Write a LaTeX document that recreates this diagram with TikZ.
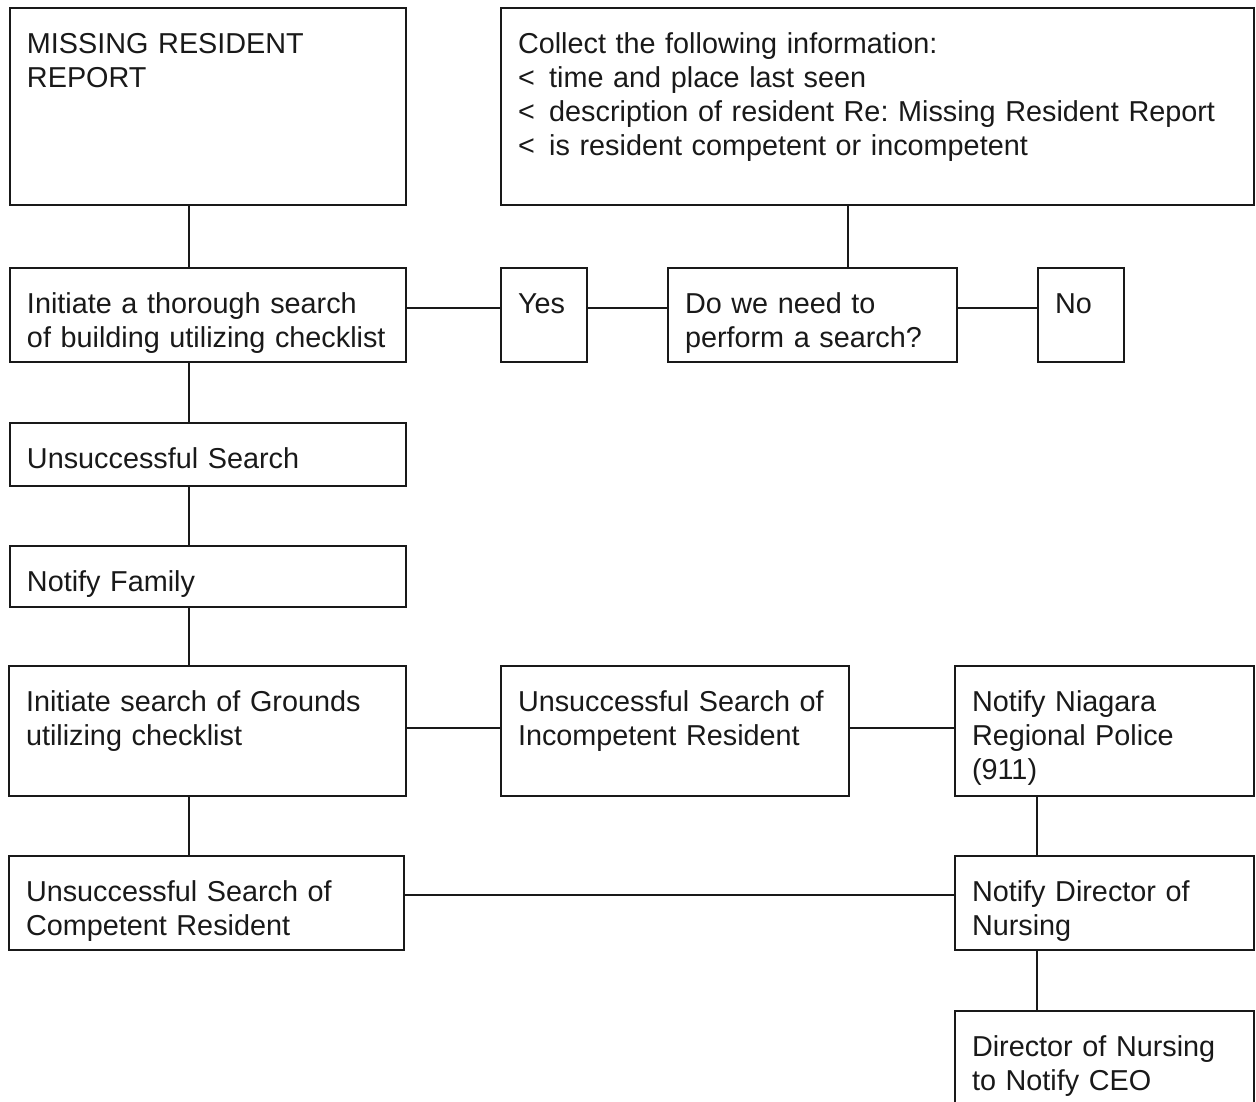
\documentclass[tikz,border=0pt]{standalone}
\usepackage{fontspec}
\setmainfont{Liberation Sans}
\usepackage{tikz}

\begin{document}
\begin{tikzpicture}[x=1pt,y=-1pt,
  box/.style={draw=black!90,line width=2pt,anchor=north west,align=left,
    inner xsep=17pt,inner ysep=0pt,text height=45pt,text=black!90,
    font=\fontsize{28.8}{34}\selectfont\frenchspacing},
  wire/.style={draw=black!90,line width=1.4pt},
  stem/.style={draw=black!90,line width=2pt}]
  \useasboundingbox (0,0) rectangle (1256,1101);
  \coordinate (trunk) at (189,0);
  \coordinate (drop) at (848,0);
  \coordinate (branch) at (1037,0);
  \coordinate (row2) at (0,308);
  \coordinate (row5) at (0,728);
  \coordinate (row6) at (0,895);

  \node[box,text width=362pt,text depth=152pt] (report) at (9,7) {MISSING RESIDENT\\REPORT};
  \node[box,text width=719pt,text depth=152pt] (collect) at (500,7)
    {Collect the following information:\\
     <\enspace time and place last seen\\
     <\enspace description of resident Re: Missing Resident Report\\
     <\enspace is resident competent or incompetent};
  \node[box,text width=362pt,text depth=49pt] (search) at (9,267) {Initiate a thorough search\\of building utilizing checklist};
  \node[box,text width=52pt,text depth=49pt] (yes) at (500,267) {Yes};
  \node[box,text width=255pt,text depth=49pt] (need) at (667,267) {Do we need to\\perform a search?};
  \node[box,text width=52pt,text depth=49pt] (no) at (1037,267) {No};
  \node[box,text width=362pt,text depth=18pt] (unsucc) at (9,422) {Unsuccessful Search};
  \node[box,text width=362pt,text depth=16pt] (family) at (9,545) {Notify Family};
  \node[box,text width=363pt,text depth=85pt] (grounds) at (8,665) {Initiate search of Grounds\\utilizing checklist};
  \node[box,text width=314pt,text depth=85pt] (incomp) at (500,665) {Unsuccessful Search of\\Incompetent Resident};
  \node[box,text width=265pt,text depth=85pt] (police) at (954,665) {Notify Niagara\\Regional Police\\(911)};
  \node[box,text width=361pt,text depth=49pt] (comp) at (8,855) {Unsuccessful Search of\\Competent Resident};
  \node[box,text width=265pt,text depth=49pt] (director) at (954,855) {Notify Director of\\Nursing};
  \node[box,text width=265pt,text depth=60pt] (ceo) at (954,1010) {Director of Nursing\\to Notify CEO};

  \draw[stem] (report.south -| trunk) -- (search.north -| trunk);
  \draw[stem] (collect.south -| drop) -- (need.north -| drop);
  \draw[wire] (search.east |- row2) -- (yes.west |- row2);
  \draw[wire] (yes.east |- row2) -- (need.west |- row2);
  \draw[wire] (need.east |- row2) -- (no.west |- row2);
  \draw[stem] (search.south -| trunk) -- (unsucc.north -| trunk);
  \draw[stem] (unsucc.south -| trunk) -- (family.north -| trunk);
  \draw[stem] (family.south -| trunk) -- (grounds.north -| trunk);
  \draw[stem] (grounds.south -| trunk) -- (comp.north -| trunk);
  \draw[wire] (grounds.east |- row5) -- (incomp.west |- row5);
  \draw[wire] (incomp.east |- row5) -- (police.west |- row5);
  \draw[wire] (comp.east |- row6) -- (director.west |- row6);
  \draw[stem] (police.south -| branch) -- (director.north -| branch);
  \draw[stem] (director.south -| branch) -- (ceo.north -| branch);
\end{tikzpicture}
\end{document}
